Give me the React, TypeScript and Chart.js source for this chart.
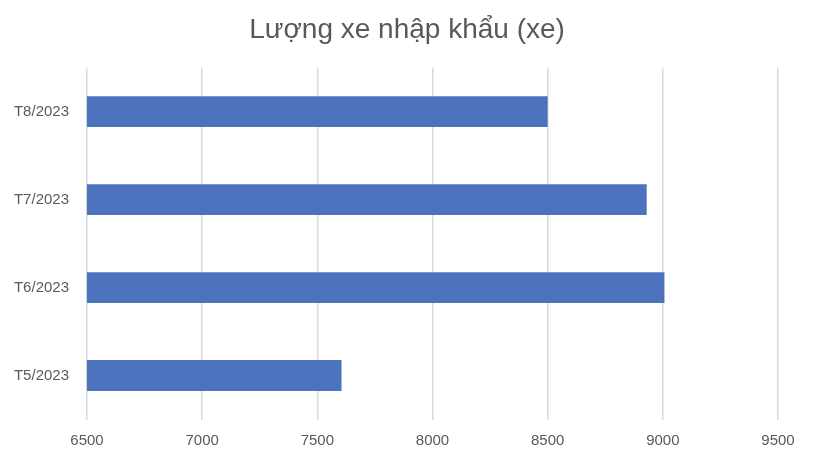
import React, { useEffect, useRef } from "react";
import { Chart, registerables } from "chart.js";
Chart.register(...registerables);

const title = "Lượng xe nhập khẩu (xe)";
const months = ["T8/2023", "T7/2023", "T6/2023", "T5/2023"];
const imports = [8500, 8930, 9007, 7605];
const axisMin = 6500;
const axisMax = 9500;
const axisStep = 500;

const textColor = "#595959";
const fontFamily = "'Liberation Sans', Arial, sans-serif";

export default function App() {
	const canvasRef = useRef<HTMLCanvasElement | null>(null);

	useEffect(() => {
		if (!canvasRef.current) return;
		const chart = new Chart(canvasRef.current, {
			type: "bar",
			data: {
				labels: months,
				datasets: [
					{
						label: "Lượng xe nhập khẩu",
						data: imports,
						backgroundColor: "#4e73be",
						borderWidth: 0,
						barPercentage: 0.7,
						categoryPercentage: 0.5,
					},
				],
			},
			options: {
				indexAxis: "y",
				animation: false,
				responsive: true,
				maintainAspectRatio: false,
				layout: { padding: 0 },
				plugins: {
					legend: { display: false },
					tooltip: { enabled: false },
					title: {
						display: true,
						text: title,
						color: textColor,
						font: { family: fontFamily, size: 28, weight: "normal" },
						padding: { top: 13, bottom: 21 },
					},
				},
				scales: {
					x: {
						min: axisMin,
						max: axisMax,
						border: { display: false },
						grid: { color: "#d9d9d9", lineWidth: 1.5, drawTicks: false },
						ticks: {
							stepSize: axisStep,
							padding: 12,
							color: textColor,
							font: { family: fontFamily, size: 15 },
							callback: (value) => String(value),
						},
						afterFit: (scale) => {
							scale.height = 42.5;
						},
					},
					y: {
						border: { display: false },
						grid: { display: false, drawTicks: false },
						ticks: {
							padding: 18,
							color: textColor,
							font: { family: fontFamily, size: 15 },
						},
						afterFit: (scale) => {
							scale.width = 87;
						},
					},
					// empty right-hand margin, so the title stays centred on the whole canvas
					spacer: {
						type: "linear",
						position: "right",
						border: { display: false },
						grid: { display: false, drawTicks: false },
						ticks: { display: false },
						afterFit: (scale) => {
							scale.width = 36;
						},
					},
				},
			},
		});
		return () => chart.destroy();
	}, []);

	return (
		<div style={{ position: "fixed", left: 0, top: 0, width: 814, height: 462, background: "#fff" }}>
			<canvas ref={canvasRef} />
		</div>
	);
}
